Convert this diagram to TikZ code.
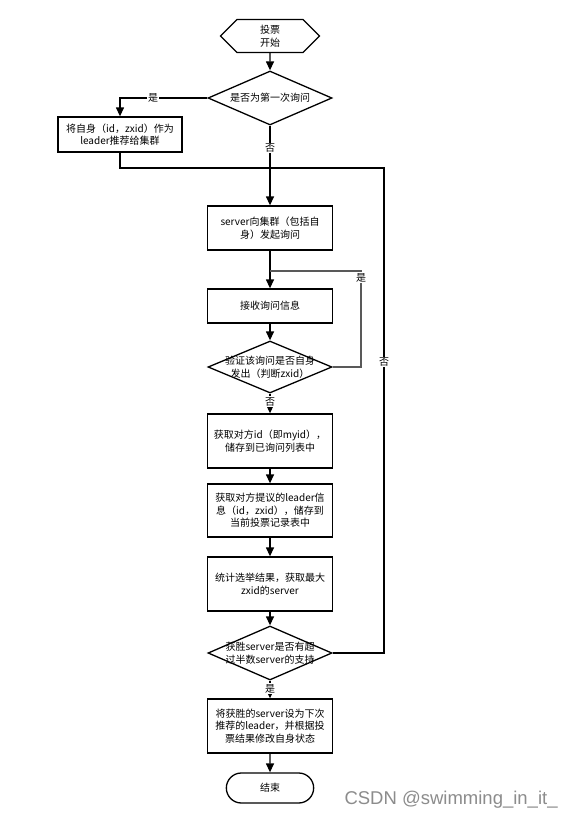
\documentclass[tikz,border=0pt]{standalone}
\usepackage{fontspec}
\newfontfamily\cjk{Noto Sans CJK SC}
\newfontfamily\wmfont{Liberation Sans}
\usetikzlibrary{shapes.geometric,shapes.symbols,shapes.misc,arrows.meta}
\begin{document}
\begin{tikzpicture}[x=1pt,y=-1pt,
  every node/.style={font=\cjk\fontsize{10}{12.5}\selectfont, align=center},
  proc/.style={draw, line width=1.3pt, minimum width=125pt, inner sep=1pt},
  dec/.style={draw, line width=1.3pt, diamond, minimum width=124pt, minimum height=54pt, inner sep=0pt},
  dtext/.style={inner sep=0pt},
  flow/.style={line width=1.3pt, -{Triangle[length=9pt,width=8pt]}},
  plain/.style={line width=1.3pt},
  lbl/.style={fill=white, inner sep=1pt}
]
\useasboundingbox (0,0) rectangle (573,819);
\fill[white] (0,0) rectangle (573,819);

% nodes
\node[draw, line width=1.3pt, signal, signal to=west and east, signal pointer angle=90,
      minimum width=99pt, minimum height=33pt, inner sep=0pt] (start) at (270,36) {投票\\开始};
\node[dec] (d1) at (270,98) {};
\node[dtext] (d1t) at (270,98) {是否为第一次询问};
\node[proc, minimum width=124pt, minimum height=35pt] (b1) at (120,134.5) {将自身（id，zxid）作为\\leader推荐给集群};
\node[proc, minimum height=44pt] (b2) at (270,228) {server向集群（包括自\\身）发起询问};
\node[proc, minimum height=34pt] (b3) at (270,306) {接收询问信息};
\node[dec, minimum height=52pt] (d2) at (270,367) {};
\node[dtext] (d2t) at (270,367) {验证该询问是否自身\\发出（判断zxid）};
\node[proc, minimum height=54pt] (b4) at (270,441) {获取对方id（即myid），\\储存到已询问列表中};
\node[proc, minimum height=53pt] (b5) at (270,510.5) {获取对方提议的leader信\\息（id，zxid），储存到\\当前投票记录表中};
\node[proc, minimum height=54pt] (b6) at (270,584) {统计选举结果，获取最大\\zxid的server};
\node[dec] (d3) at (270,653) {};
\node[dtext] (d3t) at (270,653) {获胜server是否有超\\过半数server的支持};
\node[proc, minimum height=54pt] (b7) at (270,726) {将获胜的server设为下次\\推荐的leader，并根据投\\票结果修改自身状态};
\node[draw, line width=1.3pt, rounded rectangle, minimum width=94pt, minimum height=30pt] (end) at (270,788) {结束};

\coordinate (j1) at (270,168);
\coordinate (r1) at (384,168);
\coordinate (j2) at (270,271);
\coordinate (c2) at (361,271);

% connectors
\draw[flow] (start) -- (d1);
\draw[flow] (d1.west) -| node[lbl, pos=0.31] {是} (b1.north);
\draw[flow] (d1.south) -- node[lbl, pos=0.28] {否} (b2.north);
\draw[plain] (b1.south) |- (j1);
\draw[plain] (d3.east) -| node[lbl, pos=0.80] {否} (r1) -- (j1);
\draw[flow] (b2.south) -- (b3.north);
\draw[plain, draw=black!65] (d2.east) -| node[lbl, pos=0.965] {是} (c2) -- (j2);
\draw[flow] (b3.south) -- (d2.north);
\draw[flow] (d2.south) -- node[lbl, pos=0.4] {否} (b4.north);
\draw[flow] (b4) -- (b5);
\draw[flow] (b5) -- (b6);
\draw[flow] (b6) -- (d3.north);
\draw[flow] (d3.south) -- node[lbl, pos=0.45] {是} (b7.north);
\draw[flow] (b7) -- (end);

\node[font=\wmfont\fontsize{18.5}{22}\selectfont, text=black!45, anchor=west] (wm) at (341,800) {CSDN @swimming\_in\_it\_};
\end{tikzpicture}
\end{document}
